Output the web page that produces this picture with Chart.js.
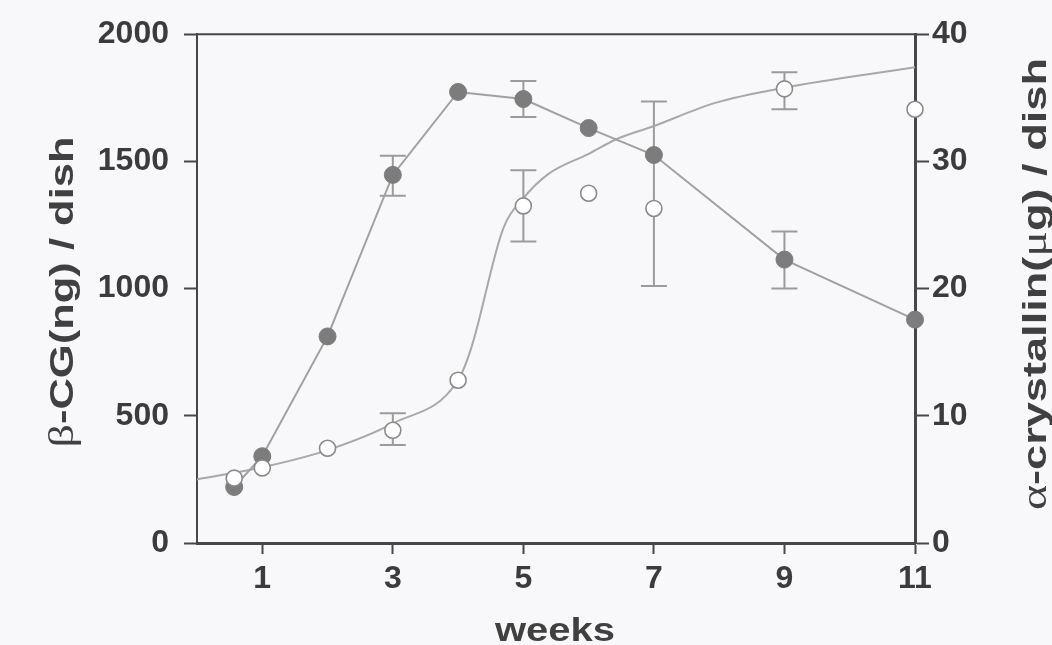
<!DOCTYPE html>
<html>
<head>
<meta charset="utf-8">
<script src="https://cdn.jsdelivr.net/npm/chart.js@4.4.1/dist/chart.umd.min.js"></script>
<style>
  html, body { margin: 0; padding: 0; background: #f8f8fa; }
  #wrap { width: 1052px; height: 645px; }
</style>
</head>
<body>
<div id="wrap"><canvas id="growthChart" width="1052" height="645"></canvas></div>
<script>
// values
const weeks = [0.57, 1, 2, 3, 4, 5, 6, 7, 9, 11];
const betaCG = [220, 341, 812, 1447, 1773, 1745, 1631, 1525, 1114, 878];
const alphaCryst = [5.1, 5.9, 7.45, 8.86, 12.8, 26.5, 27.5, 26.3, 35.7, 34.1];

// error bars (low / high ends)
const betaErrWeeks = [3, 5, 9];
const betaErrLow = [1365, 1675, 1000];
const betaErrHigh = [1522, 1816, 1224];
const alphaErrWeeks = [3, 5, 7, 9];
const alphaErrLow = [7.7, 23.7, 20.2, 34.1];
const alphaErrHigh = [10.2, 29.3, 34.7, 37.0];

// smooth fitted curve through the alpha-crystallin points
const fitWeeks = [0, 1, 2, 3, 4, 4.2, 4.69, 5, 5.38, 6, 6.45, 6.96, 7.94, 9, 11];
const fitAlpha = [5.0, 5.95, 7.3, 9.4, 12.8, 15.3, 24.7, 27.1, 29.0, 30.6, 31.8, 32.7, 34.6, 35.8, 37.4];

const weekTicks = [1, 3, 5, 7, 9, 11];

const toXY = (xs, ys) => xs.map((x, i) => ({ x: x, y: ys[i] }));

const axisColor = '#474747';
const labelColor = '#3b3b3b';
const tickFont = { family: 'Liberation Sans', size: 32, weight: 'bold' };
const plainNum = v => String(v);

// error bars go under the markers
const errorBars = {
  id: 'errorBars',
  beforeDatasetsDraw(chart) {
    const ctx = chart.ctx;
    const xs = chart.scales.x;
    const sets = [
      { w: betaErrWeeks, lo: betaErrLow, hi: betaErrHigh, s: chart.scales.y },
      { w: alphaErrWeeks, lo: alphaErrLow, hi: alphaErrHigh, s: chart.scales.y1 }
    ];
    ctx.save();
    ctx.strokeStyle = '#9b9b9b';
    ctx.lineWidth = 2;
    sets.forEach(set => {
      set.w.forEach((w, i) => {
        const px = xs.getPixelForValue(w);
        const top = set.s.getPixelForValue(set.hi[i]);
        const bot = set.s.getPixelForValue(set.lo[i]);
        ctx.beginPath();
        ctx.moveTo(px, top); ctx.lineTo(px, bot);
        ctx.moveTo(px - 13, top); ctx.lineTo(px + 13, top);
        ctx.moveTo(px - 13, bot); ctx.lineTo(px + 13, bot);
        ctx.stroke();
      });
    });
    ctx.restore();
  }
};

// draws text made of mixed-font parts, stretched to a given length
function drawParts(ctx, parts, len) {
  let total = 0;
  parts.forEach(p => { ctx.font = p.font; p.w = ctx.measureText(p.t).width; total += p.w; });
  ctx.scale(len / total, 1);
  let x = -total / 2;
  parts.forEach(p => { ctx.font = p.font; ctx.fillText(p.t, x, 0); x += p.w; });
}

const frameAndTitles = {
  id: 'frameAndTitles',
  afterDraw(chart) {
    const ctx = chart.ctx;
    const a = chart.chartArea;
    ctx.save();
    // top frame line
    ctx.strokeStyle = axisColor;
    ctx.lineWidth = 2;
    ctx.beginPath();
    ctx.moveTo(a.left, a.top); ctx.lineTo(a.right, a.top);
    ctx.stroke();

    ctx.fillStyle = '#404040';
    ctx.textBaseline = 'alphabetic';
    ctx.textAlign = 'left';
    const bold = 'bold 34px "Liberation Sans"';
    const greek = '36px "Liberation Serif"';

    // left title
    ctx.save();
    ctx.translate(73, 292);
    ctx.rotate(-Math.PI / 2);
    drawParts(ctx, [{ t: 'β', font: greek }, { t: '-CG(ng) / dish', font: bold }], 311);
    ctx.restore();

    // right title
    ctx.save();
    ctx.translate(1046, 284);
    ctx.rotate(-Math.PI / 2);
    drawParts(ctx, [{ t: 'α', font: greek }, { t: '-crystallin(', font: bold },
                    { t: 'μ', font: greek }, { t: 'g) / dish', font: bold }], 452);
    ctx.restore();

    // x title
    ctx.save();
    ctx.translate(555, 641);
    drawParts(ctx, [{ t: 'weeks', font: bold }], 120);
    ctx.restore();
    ctx.restore();
  }
};

new Chart(document.getElementById('growthChart').getContext('2d'), {
  type: 'line',
  data: {
    datasets: [
      {
        label: 'alpha-crystallin',
        data: toXY(weeks, alphaCryst),
        yAxisID: 'y1',
        showLine: false,
        pointRadius: 8,
        pointBackgroundColor: '#ffffff',
        pointBorderColor: '#8a8a8a',
        pointBorderWidth: 1.6,
        clip: false,
        order: 0
      },
      {
        label: 'beta-CG',
        data: toXY(weeks, betaCG),
        yAxisID: 'y',
        borderColor: '#a0a0a0',
        borderWidth: 2,
        tension: 0,
        pointRadius: 8.5,
        pointBackgroundColor: '#7c7c7c',
        pointBorderColor: '#7c7c7c',
        pointBorderWidth: 1,
        clip: false,
        order: 1
      },
      {
        label: 'alpha fit',
        data: toXY(fitWeeks, fitAlpha),
        yAxisID: 'y1',
        borderColor: '#a8a8a8',
        borderWidth: 2,
        pointRadius: 0,
        cubicInterpolationMode: 'monotone',
        clip: false,
        order: 2
      }
    ]
  },
  options: {
    responsive: false,
    animation: false,
    devicePixelRatio: 1,
    layout: { padding: { top: 33, left: 0, right: 0, bottom: 0 } },
    plugins: { legend: { display: false }, tooltip: { enabled: false } },
    scales: {
      x: {
        type: 'linear',
        min: 0,
        max: 11,
        afterBuildTicks: s => { s.ticks = weekTicks.map(v => ({ value: v })); },
        afterFit: s => { s.height = 102; },
        grid: { drawOnChartArea: false, drawTicks: true, tickLength: 11, tickWidth: 2, tickColor: axisColor },
        border: { color: axisColor, width: 3 },
        ticks: { font: tickFont, color: labelColor, padding: 6, maxRotation: 0, autoSkip: false, callback: plainNum }
      },
      y: {
        position: 'left',
        min: 0,
        max: 2000,
        afterFit: s => { s.width = 197; },
        grid: { drawOnChartArea: false, drawTicks: true, tickLength: 13, tickWidth: 2, tickColor: axisColor },
        border: { color: axisColor, width: 2 },
        ticks: { stepSize: 500, font: tickFont, color: labelColor, padding: 15, callback: plainNum }
      },
      y1: {
        position: 'right',
        min: 0,
        max: 40,
        afterFit: s => { s.width = 137; },
        grid: { drawOnChartArea: false, drawTicks: true, tickLength: 14, tickWidth: 2, tickColor: axisColor },
        border: { color: axisColor, width: 3 },
        ticks: { stepSize: 10, font: tickFont, color: labelColor, padding: 3, callback: plainNum }
      }
    }
  },
  plugins: [errorBars, frameAndTitles]
});
</script>
</body>
</html>
